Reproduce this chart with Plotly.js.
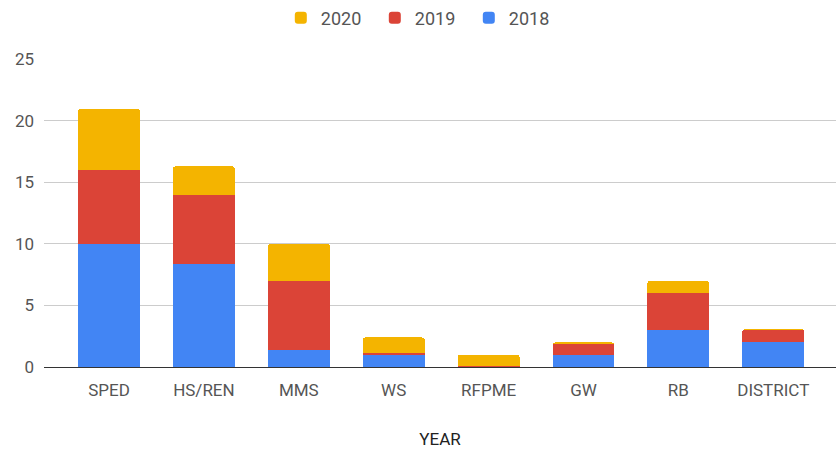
<!DOCTYPE html>
<html>
<head>
<meta charset="utf-8">
<script src="https://cdn.plot.ly/plotly-3.0.1.min.js"></script>
<style>html,body{margin:0;padding:0;background:#fff;}#chart{width:836px;height:449px;}</style>
</head>
<body>
<div id="chart"></div>
<script>
const categories = ["SPED", "HS/REN", "MMS", "WS", "RFPME", "GW", "RB", "DISTRICT"];
const values2018 = [10, 8.4, 1.4, 1, 0, 1, 3, 2];
const values2019 = [6, 5.6, 5.6, 0.1, 0.1, 0.9, 3, 1];
const values2020 = [5, 2.3, 3, 1.3, 0.9, 0.1, 1, 0.1];
const seriesNames = ["2018", "2019", "2020"];
const seriesColors = ["#4285F4", "#DB4437", "#F4B400"];
const yTicks = [0, 5, 10, 15, 20, 25];

const allValues = [values2018, values2019, values2020];
const traces = allValues.map((vals, i) => ({
  type: "bar",
  name: seriesNames[i],
  x: categories,
  y: vals,
  marker: {color: seriesColors[i], line: {width: 0}},
  hoverinfo: "x+y+name"
}));

const FONT = "Roboto, sans-serif";
const layout = {
  width: 836,
  height: 449,
  barmode: "stack",
  bargap: 0.347,
  barcornerradius: 3,
  paper_bgcolor: "#fff",
  plot_bgcolor: "#fff",
  font: {family: FONT, size: 17, color: "#444"},
  margin: {l: 44, r: 0, t: 59, b: 82, autoexpand: false},
  showlegend: true,
  legend: {
    orientation: "h",
    x: 0.299, xanchor: "left",
    y: 1.133, yanchor: "middle",
    traceorder: "reversed",
    font: {family: FONT, size: 18, color: "#555"},
    itemwidth: 30,
    entrywidth: 49,
    entrywidthmode: "pixels"
  },
  xaxis: {
    type: "category",
    range: [-0.685, 7.661],
    showgrid: false,
    zeroline: false,
    showline: true,
    linecolor: "#333",
    linewidth: 1,
    ticks: "",
    ticklabelstandoff: 8,
    tickfont: {family: FONT, size: 17, color: "#555"},
    title: {text: "YEAR", font: {family: FONT, size: 17, color: "#222"}, standoff: 34},
    fixedrange: true
  },
  yaxis: {
    range: [0, 25.03],
    tickvals: yTicks,
    ticktext: yTicks.map(String),
    showgrid: true,
    gridcolor: "#ccc",
    gridwidth: 1,
    zeroline: false,
    showline: false,
    ticks: "",
    ticklabelstandoff: 9,
    tickfont: {family: FONT, size: 17, color: "#555"},
    fixedrange: true
  }
};

Plotly.newPlot("chart", traces, layout, {displayModeBar: false, staticPlot: true});
</script>
</body>
</html>
